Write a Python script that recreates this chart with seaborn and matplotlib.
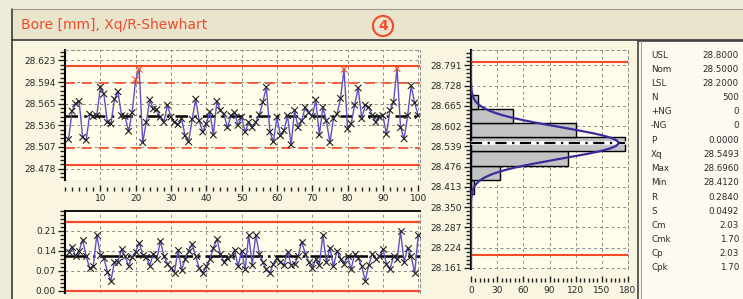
import numpy as np
import pandas as pd
import seaborn as sns
import matplotlib.pyplot as plt
from matplotlib.patches import Rectangle
from matplotlib.lines import Line2D
from matplotlib.ticker import FixedLocator, MultipleLocator, FormatStrFormatter

# subgroup means (Xq) for samples 1..100
xq_values = [
    28.517, 28.555, 28.565, 28.568, 28.520, 28.516, 28.551, 28.548, 28.549, 28.587,
    28.578, 28.540, 28.538, 28.571, 28.581, 28.549, 28.548, 28.528, 28.553, 28.597,
    28.611, 28.513, 28.540, 28.570, 28.558, 28.557, 28.547, 28.540, 28.563, 28.547,
    28.540, 28.537, 28.545, 28.522, 28.514, 28.544, 28.571, 28.542, 28.527, 28.538,
    28.554, 28.523, 28.568, 28.556, 28.551, 28.533, 28.549, 28.553, 28.536, 28.547,
    28.527, 28.540, 28.533, 28.540, 28.550, 28.567, 28.587, 28.527, 28.514, 28.547,
    28.522, 28.529, 28.549, 28.510, 28.556, 28.533, 28.542, 28.560, 28.553, 28.548,
    28.570, 28.523, 28.560, 28.542, 28.513, 28.545, 28.551, 28.572, 28.611, 28.531,
    28.538, 28.563, 28.586, 28.545, 28.563, 28.560, 28.549, 28.540, 28.547, 28.549,
    28.524, 28.556, 28.567, 28.612, 28.533, 28.518, 28.549, 28.589, 28.566, 28.549,
]

# subgroup ranges (R) for samples 1..100
r_values = [
    0.137, 0.154, 0.120, 0.140, 0.178, 0.120, 0.079, 0.085, 0.195, 0.125,
    0.114, 0.067, 0.035, 0.100, 0.102, 0.145, 0.120, 0.088, 0.118, 0.137,
    0.168, 0.125, 0.118, 0.088, 0.130, 0.110, 0.175, 0.120, 0.095, 0.080,
    0.064, 0.143, 0.073, 0.110, 0.140, 0.163, 0.120, 0.079, 0.062, 0.085,
    0.110, 0.150, 0.180, 0.130, 0.100, 0.115, 0.120, 0.143, 0.085, 0.140,
    0.075, 0.195, 0.090, 0.195, 0.130, 0.100, 0.075, 0.062, 0.095, 0.115,
    0.100, 0.090, 0.137, 0.090, 0.095, 0.120, 0.172, 0.130, 0.100, 0.079,
    0.110, 0.090, 0.195, 0.100, 0.150, 0.085, 0.140, 0.110, 0.095, 0.120,
    0.075, 0.130, 0.115, 0.085, 0.036, 0.090, 0.130, 0.110, 0.120, 0.145,
    0.095, 0.075, 0.120, 0.110, 0.207, 0.100, 0.150, 0.120, 0.062, 0.195,
]

# control limits
xq_center = 28.549
xq_ucl, xq_lcl = 28.615, 28.483
xq_uwl, xq_lwl = 28.593, 28.505
r_center, r_ucl, r_lcl = 0.123, 0.240, 0.0

# histogram of individual values
hist_edges = [28.390, 28.434, 28.479, 28.523, 28.567, 28.612, 28.656, 28.700]
hist_counts = [4, 33, 111, 176, 120, 48, 8]
norm_peak = 169

xq_ticks = [28.478, 28.507, 28.536, 28.565, 28.594, 28.623]
r_ticks = [0.00, 0.07, 0.14, 0.21]
hist_ticks = [28.161, 28.224, 28.287, 28.350, 28.413, 28.476, 28.539,
              28.602, 28.665, 28.728, 28.791]
hist_xticks = [0, 30, 60, 90, 120, 150, 180]

stat_labels = ['USL', 'Nom', 'LSL', 'N', '+NG', '-NG', 'P', 'Xq', 'Max', 'Min',
               'R', 'S', 'Cm', 'Cmk', 'Cp', 'Cpk']
stat_values = ['28.8000', '28.5000', '28.2000', '500', '0', '0', '0.0000',
               '28.5493', '28.6960', '28.4120', '0.2840', '0.0492', '2.03',
               '1.70', '2.03', '1.70']
usl, lsl = 28.8, 28.2
mean_val, s_val = 28.5493, 0.0492

title = 'Bore [mm], Xq/R-Shewhart'

RED = '#f24a2a'
BLUE = '#5d50c6'
GRID = '#8c8c8c'
AX_BG = '#fffcea'
PANEL = '#f9f5e1'

sns.set_style('ticks')
plt.rcParams['font.family'] = ['DejaVu Sans']

W, H = 743, 299


def fx(x):
    return x / W


def fy(y):
    return 1 - y / H


fig = plt.figure(figsize=(W / 100, H / 100), dpi=100)
fig.patch.set_facecolor('#eeebd9')

# main panel and title bar
fig.add_artist(Rectangle((fx(12), 0), 1, fy(40), transform=fig.transFigure,
                         fc=PANEL, ec='none', zorder=-5))
fig.add_artist(Rectangle((fx(12), fy(40)), 1, (40 - 9) / H, transform=fig.transFigure,
                         fc='#e9e4cc', ec='none', zorder=-5))
fig.add_artist(Line2D([fx(12), fx(12)], [0, fy(9)], transform=fig.transFigure,
                      color='#3a3a3a', lw=1.2))
fig.add_artist(Line2D([fx(12), 1], [fy(40), fy(40)], transform=fig.transFigure,
                      color='#3a3a3a', lw=1.2))
fig.add_artist(Line2D([fx(12), 1], [fy(9), fy(9)], transform=fig.transFigure,
                      color='#9a9888', lw=0.8))
fig.text(fx(21), fy(25), title, color='#ee4c2c', fontsize=10, va='center', ha='left')
fig.text(fx(383), fy(26), '4', color=RED, fontsize=10, fontweight='bold',
         ha='center', va='center',
         bbox=dict(boxstyle='circle,pad=0.22', fc='none', ec=RED, lw=1.5))


def style_axis(ax, bottom_offset=None, top_black=False):
    ax.set_facecolor(AX_BG)
    ax.spines['left'].set_color('black')
    ax.spines['left'].set_linewidth(1.5)
    for side in ['right', 'top']:
        ax.spines[side].set_color(GRID)
        ax.spines[side].set_linewidth(0.7)
        ax.spines[side].set_linestyle((0, (3, 3)))
    if top_black:
        ax.spines['top'].set_color('black')
        ax.spines['top'].set_linewidth(1.3)
        ax.spines['top'].set_linestyle('-')
    ax.spines['bottom'].set_visible(False)
    if bottom_offset is not None:
        ax.spines['bottom'].set_position(('outward', bottom_offset))
    ax.grid(True, which='major', color=GRID, linestyle=(0, (3, 3)), linewidth=0.7)
    ax.tick_params(axis='y', which='major', direction='out', length=5, width=1,
                   labelsize=6.5, pad=1.5, color='#222222')
    ax.tick_params(axis='y', which='minor', direction='out', length=3.5, width=1,
                   color='#222222')
    ax.tick_params(axis='x', which='major', direction='in', length=4.5, width=1,
                   labelsize=6.5, pad=2.5, color='#222222')
    ax.tick_params(axis='x', which='minor', direction='in', length=3, width=1,
                   color='#222222')
    ax.set_axisbelow(True)


samples = np.arange(1, len(xq_values) + 1)

# ---- Xq chart ----
ax_x = fig.add_axes([fx(65), fy(179.5), (420 - 65) / W, (179.5 - 49.5) / H])
style_axis(ax_x, bottom_offset=8)
for y in [xq_ucl, xq_lcl]:
    ax_x.axhline(y, color=RED, lw=1.5, zorder=2)
for y in [xq_uwl, xq_lwl]:
    ax_x.axhline(y, color=RED, lw=1.2, ls=(0, (6, 4)), zorder=2)
ax_x.axhline(xq_center, color='black', lw=1.8, ls=(0, (5, 2.5, 1, 2.5)), zorder=2)
df_x = pd.DataFrame({'sample': samples, 'xq': xq_values})
df_x['out'] = (df_x['xq'] > xq_uwl) | (df_x['xq'] < xq_lwl)
sns.lineplot(data=df_x, x='sample', y='xq', ax=ax_x, color=BLUE, lw=1, zorder=3)
sns.scatterplot(data=df_x, x='sample', y='xq', hue='out', palette={False: '#202020', True: RED},
                marker='x', s=22, linewidth=0.8, legend=False, ax=ax_x, zorder=4)
ax_x.set_xlim(0, 100.5)
ax_x.set_ylim(28.4635, 28.6375)
ax_x.yaxis.set_major_locator(FixedLocator(xq_ticks))
ax_x.yaxis.set_minor_locator(MultipleLocator(0.0058))
ax_x.yaxis.set_major_formatter(FormatStrFormatter('%.3f'))
ax_x.xaxis.set_major_locator(FixedLocator(list(range(10, 101, 10))))
ax_x.xaxis.set_minor_locator(MultipleLocator(2))
ax_x.set_xlabel('')
ax_x.set_ylabel('')

# ---- R chart ----
ax_r = fig.add_axes([fx(65), fy(292.5), (420 - 65) / W, (292.5 - 210.5) / H])
style_axis(ax_r, top_black=True)
ax_r.axhline(r_ucl, color=RED, lw=1.6, zorder=2)
ax_r.axhline(r_lcl, color=RED, lw=1.6, zorder=2)
ax_r.axhline(r_center, color='black', lw=1.8, ls=(0, (9, 2, 1, 2)), zorder=2)
df_r = pd.DataFrame({'sample': samples, 'r': r_values})
sns.lineplot(data=df_r, x='sample', y='r', ax=ax_r, color=BLUE, lw=1, zorder=3)
sns.scatterplot(data=df_r, x='sample', y='r', color='#202020', marker='x', s=22,
                linewidth=0.8, legend=False, ax=ax_r, zorder=4)
ax_r.set_xlim(0, 100.5)
ax_r.set_ylim(-0.0056, 0.28)
ax_r.yaxis.set_major_locator(FixedLocator(r_ticks))
ax_r.yaxis.set_minor_locator(MultipleLocator(0.014))
ax_r.yaxis.set_major_formatter(FormatStrFormatter('%.2f'))
ax_r.xaxis.set_major_locator(FixedLocator(list(range(10, 101, 10))))
ax_r.tick_params(axis='x', which='both', length=0, labelbottom=False)
ax_r.set_xlabel('')
ax_r.set_ylabel('')

# ---- histogram ----
ax_h = fig.add_axes([fx(471), fy(268.5), (628 - 471) / W, (268.5 - 49.5) / H])
style_axis(ax_h, bottom_offset=10)
centers = [(a + b) / 2 for a, b in zip(hist_edges[:-1], hist_edges[1:])]
sns.histplot(y=centers, weights=hist_counts, bins=hist_edges, ax=ax_h,
             color='#c3c3c3', edgecolor='black', linewidth=1, alpha=1, zorder=2)
ax_h.axhline(usl, color=RED, lw=1.5, zorder=3)
ax_h.axhline(lsl, color=RED, lw=1.5, zorder=3)
ax_h.plot([0, max(hist_counts)], [mean_val, mean_val], color='white', lw=2.6, zorder=3)
ax_h.plot([0, max(hist_counts)], [mean_val, mean_val], color='black', lw=1.6,
          ls=(0, (5, 2.5, 1, 2.5)), zorder=4)
yy = np.linspace(28.159, 28.84, 400)
ax_h.plot(norm_peak * np.exp(-0.5 * ((yy - mean_val) / s_val) ** 2), yy,
          color='#3b2c9e', lw=1.6, zorder=5)
ax_h.set_xlim(0, 180)
ax_h.set_ylim(28.159, 28.84)
ax_h.yaxis.set_major_locator(FixedLocator(hist_ticks))
ax_h.yaxis.set_minor_locator(MultipleLocator(0.0126))
ax_h.yaxis.set_major_formatter(FormatStrFormatter('%.3f'))
ax_h.xaxis.set_major_locator(FixedLocator(hist_xticks))
ax_h.xaxis.set_minor_locator(MultipleLocator(5))
ax_h.set_xlabel('')
ax_h.set_ylabel('')

# ---- statistics panel ----
fig.add_artist(Rectangle((fx(638), -0.01), 0.2, fy(41) + 0.01, transform=fig.transFigure,
                         fc='#fdfbf1', ec='#404040', lw=1.2, zorder=1))
fig.add_artist(Line2D([fx(641), fx(641)], [0, fy(41)], transform=fig.transFigure,
                      color='#a0a0a0', lw=0.8, zorder=2))
for k, (lab, val) in enumerate(zip(stat_labels, stat_values)):
    y = fy(55 + k * 14.2)
    fig.text(fx(651), y, lab, fontsize=6.3, color='#2a2a2a', va='center', ha='left', zorder=3)
    fig.text(fx(739), y, val, fontsize=6.3, color='#2a2a2a', va='center', ha='right', zorder=3)

fig.savefig('out.png', dpi=100, facecolor=fig.get_facecolor())
